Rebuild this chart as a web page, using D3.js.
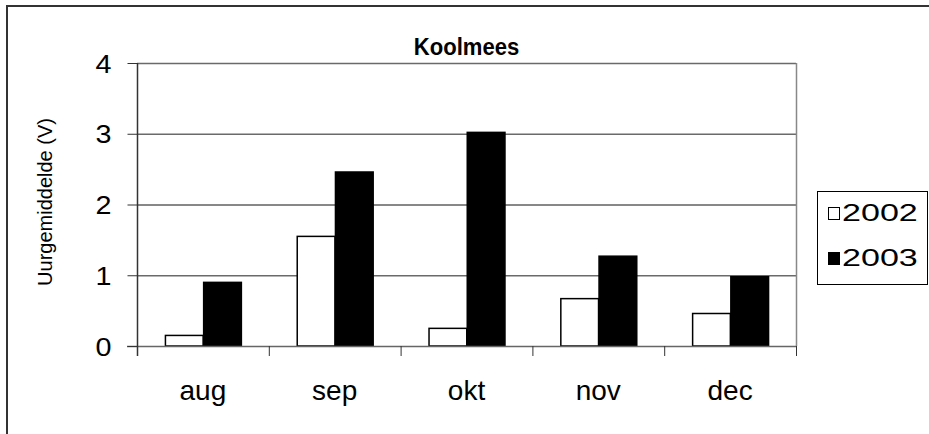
<!DOCTYPE html>
<html><head><meta charset="utf-8">
<script src="https://cdn.jsdelivr.net/npm/d3@7"></script>
<style>body{margin:0;background:#fff;} svg{display:block;font-family:"Liberation Sans",Arial,sans-serif;}</style>
</head><body>
<svg id="c" width="929" height="434"></svg>
<script>
const title = "Koolmees";
const yTitle = "Uurgemiddelde (V)";
const categories = ["aug","sep","okt","nov","dec"];
const seriesNames = ["2002","2003"];
const values2002 = [0.16,1.56,0.26,0.68,0.47];
const values2003 = [0.91,2.47,3.03,1.28,0.99];
const yTicks = [0,1,2,3,4];
const seriesFill = ["#ffffff","#000000"];

const svg = d3.select("#c");
const L=137,R=796,T=63,B=346;
// outer border
svg.append("path").attr("d","M7,440 L7,6 L935,6").attr("fill","none").attr("stroke","#333").attr("stroke-width",2);

const x = d3.scaleBand().domain(categories).range([L,R]).paddingInner(0.42).paddingOuter(0.21);
const x1 = d3.scaleBand().domain(seriesNames).range([0,x.bandwidth()]);
const y = d3.scaleLinear().domain([0,4]).range([B,T]);

// gridlines
svg.append("g").selectAll("line").data(yTicks.filter(d=>d>0)).join("line")
  .attr("x1",L).attr("x2",R).attr("y1",d=>y(d)+0.5).attr("y2",d=>y(d)+0.5)
  .attr("stroke",d=>d===2?"#111":"#6a6a6a").attr("stroke-width",d=>d===2?1:1.5);
// right border
svg.append("line").attr("x1",R+0.5).attr("x2",R+0.5).attr("y1",T).attr("y2",B).attr("stroke","#888").attr("stroke-width",1.5);

const data = categories.map((c,i)=>({c, v:[values2002[i],values2003[i]]}));
const g = svg.append("g");
data.forEach(d=>{
  d.v.forEach((v,j)=>{
    const xx = x(d.c)+x1(seriesNames[j]);
    g.append("rect").attr("x",xx+0.75).attr("y",y(v)+0.75)
      .attr("width",x1.bandwidth()-0.5).attr("height",B-y(v)-0.75)
      .attr("fill",seriesFill[j]).attr("stroke","#000").attr("stroke-width",1.5);
  });
});

// x axis
const xEdge = d3.scaleLinear().domain([0,categories.length]).range([L,R]);
svg.append("line").attr("x1",L-10).attr("x2",R).attr("y1",B+0.5).attr("y2",B+0.5).attr("stroke","#666").attr("stroke-width",1.5);
svg.append("g").selectAll("line").data(d3.range(categories.length+1)).join("line")
  .attr("x1",d=>xEdge(d)+0.5).attr("x2",d=>xEdge(d)+0.5).attr("y1",B).attr("y2",B+10).attr("stroke","#333");
svg.append("g").selectAll("text").data(categories).join("text")
  .attr("x",d=>x(d)+x.bandwidth()/2).attr("y",400).attr("text-anchor","middle")
  .attr("font-size",28).text(d=>d);

// y axis
const ya = d3.axisLeft(y).tickValues(yTicks).tickSize(10).tickPadding(0).tickFormat(d3.format("d"));
const yg = svg.append("g").attr("transform",`translate(${L+0.5},0)`).call(ya);
yg.select(".domain").attr("d",`M0,${T}V${B+10}`).attr("stroke","#333").attr("stroke-width",1.5);
yg.selectAll(".tick line").attr("stroke","#333");
yg.selectAll(".tick text").attr("x",null).attr("dy",null)
  .attr("transform","translate(-26,9) scale(1.15,1)")
  .attr("font-size",25).attr("fill","#000").attr("font-family","Liberation Sans, Arial");

// title
svg.append("text").attr("transform",`translate(${(L+R)/2},55) scale(0.92,1)`).attr("text-anchor","middle")
  .attr("font-size",24).attr("font-weight","bold").text(title);
// y title
svg.append("text").attr("transform","translate(52,202) rotate(-90)").attr("text-anchor","middle")
  .attr("font-size",20).text(yTitle);

// legend
svg.append("rect").attr("x",817.5).attr("y",191.5).attr("width",110).attr("height",93).attr("fill","#fff").attr("stroke","#000");
const lg = svg.append("g").selectAll("g").data(seriesNames).join("g")
  .attr("transform",(d,i)=>`translate(828,${207+i*45})`);
lg.append("rect").attr("x",0.5).attr("y",0.5).attr("width",11).attr("height",12)
  .attr("fill",(d,i)=>seriesFill[i]).attr("stroke","#000");
lg.append("text").attr("transform","translate(14,14) scale(1.42,1)").attr("font-size",24).text(d=>d);
</script>
</body></html>
